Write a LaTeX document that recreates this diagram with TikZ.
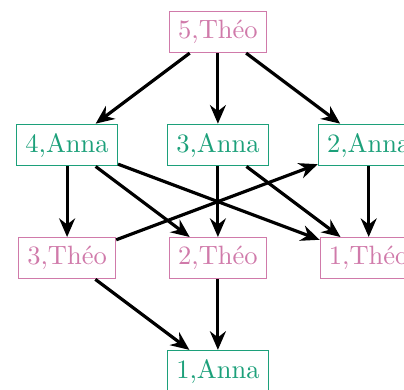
\documentclass[tikz,border=0pt]{standalone}
\usepackage{tikz}
\usetikzlibrary{arrows.meta}

\definecolor{theocol}{RGB}{208,122,170}
\definecolor{annacol}{RGB}{28,160,122}

\begin{document}
\begin{tikzpicture}[
        theo/.style={draw=theocol, text=theocol},
        anna/.style={draw=annacol, text=annacol},
        fleche/.style={-{Stealth[length=7pt,width=6pt]}, very thick}
    ]
        \useasboundingbox (-2.89,0.424) rectangle (2.468,-4.748);
        % NOEUDS
        \node[theo] (t5) at (0,0) {5,Théo};
        \node[anna] (a4) at (-2,-1.5) {4,Anna};
        \node[anna] (a3) at (0,-1.5) {3,Anna};
        \node[anna] (a2) at (2,-1.5) {2,Anna};
        \node[theo] (t3) at (-2,-3) {3,Théo};
        \node[theo] (t2) at (0,-3) {2,Théo};
        \node[theo] (t1) at (2,-3) {1,Théo};
        \node[anna] (a1) at (0,-4.5) {1,Anna};

        % ARCS
        \draw[fleche] (t5) -- (a4);
        \draw[fleche] (t5) -- (a3);
        \draw[fleche] (t5) -- (a2);
        \draw[fleche] (a4) -- (t3);
        \draw[fleche] (a4) -- (t2);
        \draw[fleche] (a4) -- (t1);
        \draw[fleche] (a3) -- (t2);
        \draw[fleche] (a3) -- (t1);
        \draw[fleche] (a2) -- (t1);
        \draw[fleche] (t3) -- (a2);
        \draw[fleche] (t3) -- (a1);
        \draw[fleche] (t2) -- (a1);
    \end{tikzpicture}
\end{document}
